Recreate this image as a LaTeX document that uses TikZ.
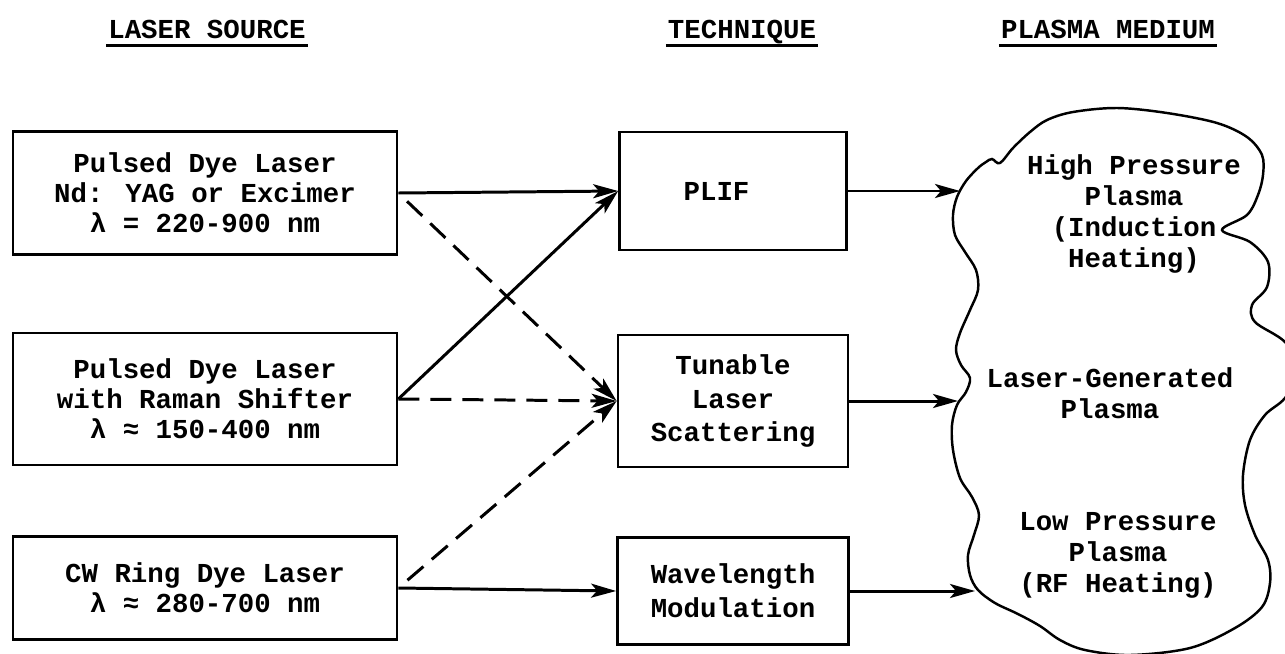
\documentclass[tikz,border=0pt]{standalone}
\usepackage{fontspec}
\setmainfont{Liberation Mono}
\usetikzlibrary{arrows.meta}

\tikzset{
  srcbox/.style={draw, line width=1.6pt, minimum width=7.68cm, align=center,
    font=\bfseries\fontsize{15.6}{17.1}\selectfont},
  techbox/.style={draw, line width=1.6pt, align=center,
    font=\bfseries\fontsize{15.6}{19.3}\selectfont},
  header/.style={inner sep=1pt, font=\bfseries\fontsize{15.6}{18}\selectfont},
  plasma/.style={align=center, font=\bfseries\fontsize{15.6}{17.6}\selectfont},
  beam/.style={line width=1.7pt, -{Stealth[length=0.5cm,width=0.28cm,inset=0.12cm]}},
  probe/.style={beam, dash pattern=on 0.42cm off 0.22cm},
  hline/.style={line width=1.6pt}
}

\begin{document}
\begin{tikzpicture}[x=0.02cm, y=-0.02cm]
    \useasboundingbox (0,0) rectangle (1285,653);
    \node[header, anchor=base] (hSrc) at (207,38) {LASER SOURCE};
    \node[header, anchor=base] (hTech) at (742,38) {TECHNIQUE};
    \node[header, anchor=base] (hPlasma) at (1108,38) {PLASMA MEDIUM};
    \foreach \h in {hSrc, hTech, hPlasma}
        \draw[hline] ([yshift=-0.15cm]\h.base west) -- ([yshift=-0.15cm]\h.base east);

    \node[srcbox, minimum height=2.46cm] (src1) at (205,193)
        {Pulsed Dye Laser\\Nd: YAG or Excimer\\λ = 220-900 nm};
    \node[srcbox, minimum height=2.64cm] (src2) at (205,399)
        {Pulsed Dye Laser\\with Raman Shifter\\λ ≈ 150-400 nm};
    \node[srcbox, minimum height=2.06cm] (src3) at (205,588)
        {CW Ring Dye Laser\\λ ≈ 280-700 nm};

    \node[techbox, minimum width=4.54cm, minimum height=2.36cm] (plif) at (733,191) {PLIF\hphantom{MM}};
    \node[techbox, minimum width=4.6cm, minimum height=2.64cm] (tune) at (733,401)
        {Tunable\\Laser\\Scattering};
    \node[techbox, minimum width=4.62cm, minimum height=2.14cm] (wave) at (733,591)
        {Wavelength\\Modulation};

    \draw[line width=1.4pt] plot[smooth cycle, tension=0.55] coordinates {
        (1117,108) (1167,113) (1217,123) (1247,137) (1262,155) (1263,175) (1258,195)
        (1247,215) (1222,230) (1250,242) (1268,262) (1267,287) (1252,305) (1255,322)
        (1285,342) (1300,370) (1285,398) (1265,415) (1250,440) (1243,475) (1245,505)
        (1255,535) (1268,560) (1270,583) (1262,607) (1235,628) (1190,648) (1130,655)
        (1085,650) (1060,640) (1040,626) (1018,614) (995,603) (978,590) (970,575)
        (968,555) (974,535) (979,515) (972,497) (960,478) (953,450) (952,425)
        (957,405) (966,392) (970,378) (961,365) (956,350) (960,333) (970,310)
        (978,290) (976,270) (965,252) (955,235) (953,215) (957,197) (966,181)
        (978,168) (986,162) (992,159) (1000,163) (1013,148) (1030,132) (1047,120)
        (1073,112)};
    \coordinate (hpIn) at (960,191);
    \coordinate (lgIn) at (958,401);
    \coordinate (lpIn) at (975,591);

    \node[plasma] (hp) at (1134,214) {High Pressure\\Plasma\\(Induction\\Heating)};
    \node[plasma] (lg) at (1110,393) {Laser-Generated\\Plasma};
    \node[plasma] (lp) at (1118,555) {Low Pressure\\Plasma\\(RF Heating)};

    \draw[beam] (src1.east) -- (plif.west);
    \draw[probe, shorten <=0.24cm] (src1.east) -- (tune.west);
    \draw[beam] (src2.east) -- (plif.west);
    \draw[probe] (src2.east) -- (tune.west);
    \draw[probe, shorten <=0.24cm] (src3.east) -- (tune.west);
    \draw[beam] (src3.east) -- (wave.west);
    \draw[beam] (plif.east) -- (hpIn);
    \draw[beam] (tune.east) -- (lgIn);
    \draw[beam] (wave.east) -- (lpIn);
\end{tikzpicture}
\end{document}
